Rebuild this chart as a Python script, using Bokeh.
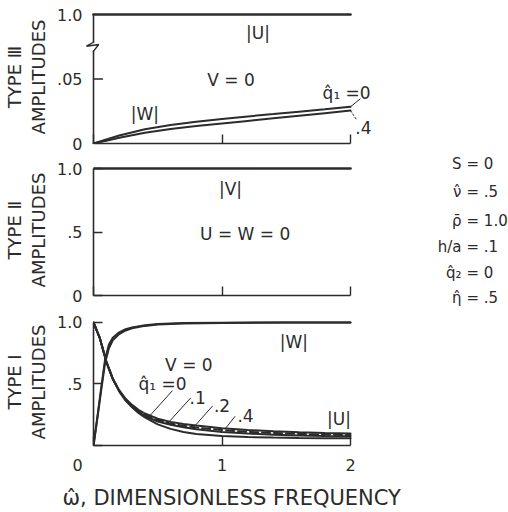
from bokeh.embed import file_html
from bokeh.layouts import column, row
from bokeh.models import FixedTicker, Label, LinearAxis
from bokeh.plotting import figure
from bokeh.resources import INLINE

# ---------------------------------------------------------------- data
# Type III mode: |U| = 1, V = 0, |W| small (two damping cases)
omega_iii = [0, 0.1, 0.2, 0.4, 0.6, 0.8, 1.0, 1.2, 1.4, 1.6, 1.8, 2.0]
w_iii_q0 = [0, 0.0032, 0.0062, 0.0110, 0.0143, 0.0168, 0.0190, 0.0210, 0.0228, 0.0247, 0.0265, 0.0285]
w_iii_q4 = [0, 0.0022, 0.0044, 0.0083, 0.0113, 0.0135, 0.0155, 0.0175, 0.0195, 0.0215, 0.0235, 0.0255]
u_iii = [1.0, 1.0]
omega_flat = [0, 2]

# Type II mode: |V| = 1, U = W = 0
v_ii = [1.0, 1.0]

# Type I mode: |U| for several q1 values, |W| rising to 1
omega_i_u = [0, 0.05, 0.1, 0.15, 0.2, 0.25, 0.3, 0.35, 0.4, 0.5, 0.6, 0.7, 0.8, 1.0, 1.2, 1.4, 1.6, 1.8, 2.0]
u_i_q0 = [1.0, 0.87, 0.68, 0.54, 0.44, 0.365, 0.31, 0.265, 0.228, 0.172, 0.135, 0.110, 0.094, 0.077, 0.069, 0.064, 0.061, 0.059, 0.058]
u_i_q1 = [1.0, 0.87, 0.68, 0.54, 0.442, 0.370, 0.316, 0.274, 0.240, 0.195, 0.168, 0.148, 0.132, 0.110, 0.097, 0.088, 0.082, 0.078, 0.075]
u_i_q2 = [1.0, 0.87, 0.68, 0.542, 0.445, 0.374, 0.322, 0.280, 0.248, 0.205, 0.178, 0.160, 0.146, 0.125, 0.111, 0.101, 0.094, 0.089, 0.085]
u_i_q4 = [1.0, 0.87, 0.682, 0.545, 0.450, 0.380, 0.330, 0.290, 0.260, 0.218, 0.192, 0.175, 0.162, 0.140, 0.126, 0.115, 0.107, 0.101, 0.097]
q1_labels = ["q\u0302\u2081 =0", ".1", ".2", ".4"]

omega_i_w = [0, 0.03, 0.06, 0.09, 0.12, 0.15, 0.2, 0.25, 0.3, 0.4, 0.5, 0.7, 1.0, 1.5, 2.0]
w_i_q0 = [0, 0.23, 0.47, 0.70, 0.82, 0.875, 0.92, 0.945, 0.96, 0.978, 0.988, 0.995, 0.998, 1.0, 1.0]
w_i_q4 = [0, 0.22, 0.45, 0.67, 0.79, 0.855, 0.905, 0.935, 0.952, 0.972, 0.983, 0.992, 0.996, 0.999, 1.0]

# shell parameters
param_names = ["S", "\u03bd\u0302", "\u03c1\u0304", "h/a", "q\u0302\u2082", "\u03b7\u0302"]
param_values = ["= 0", "= .5", "= 1.0", "= .1", "= 0", "= .5"]

x_title = "\u03c9\u0302, DIMENSIONLESS FREQUENCY"

# ---------------------------------------------------------------- style
INK = "#2b2b2b"
FONT = "DejaVu Sans"
FULL_W = 508
PLOT_W = 380
LEFT = 93
PX_PER_UNIT = 128.5
BREAK_TOP = 0.1  # axis position where the broken Type III scale shows 1.0


def interp(x, xs, ys):
    for i in range(len(xs) - 1):
        if xs[i] <= x <= xs[i + 1]:
            t = (x - xs[i]) / (xs[i + 1] - xs[i])
            return ys[i] + t * (ys[i + 1] - ys[i])
    return ys[-1]


def bare(p):
    p.outline_line_color = None
    p.grid.visible = False
    p.background_fill_color = "white"
    p.border_fill_color = "white"


def style_axis(ax, size="16px"):
    ax.minor_tick_line_color = None
    ax.axis_line_color = INK
    ax.axis_line_width = 1.6
    ax.major_tick_line_color = INK
    ax.major_tick_line_width = 1.4
    ax.major_tick_in = 9
    ax.major_tick_out = 0
    ax.major_label_text_font = FONT
    ax.major_label_text_font_size = size
    ax.major_label_text_color = INK
    ax.axis_label_text_font = FONT
    ax.axis_label_text_font_style = "normal"
    ax.axis_label_text_color = INK


def panel(width, height, top, bottom, y_end, ticks, overrides, type_name, type_bounds,
          left=LEFT, tick_labels=False):
    x_start = -(LEFT - left) / PX_PER_UNIT
    x_end = (width - LEFT) / PX_PER_UNIT
    p = figure(width=width, height=height, x_range=(x_start, x_end), y_range=(0, y_end),
               output_backend="svg", toolbar_location=None, frame_align=False,
               min_border_left=left, min_border_right=0,
               min_border_top=top, min_border_bottom=bottom)
    bare(p)

    xa = p.xaxis[0]
    style_axis(xa)
    xa.ticker = FixedTicker(ticks=[0, 1, 2])
    xa.bounds = (0, 2)
    if tick_labels:
        xa.major_label_overrides = {0: "0\u2003\u2003"}
        xa.major_label_standoff = 10
    else:
        xa.major_label_overrides = {0: "", 1: "", 2: ""}
        xa.major_label_text_font_size = "0px"
        xa.major_label_standoff = 0

    ya = p.yaxis[0]
    style_axis(ya)
    ya.ticker = FixedTicker(ticks=ticks)
    ya.major_label_overrides = overrides
    ya.bounds = (0, ticks[-1])
    ya.major_label_standoff = 11 - (LEFT - left)
    ya.axis_label = "AMPLITUDES"
    ya.axis_label_text_font_size = "18px"
    ya.axis_label_standoff = 5

    # outer left axis carrying only the mode name
    ta = LinearAxis(ticker=FixedTicker(ticks=[]), bounds=type_bounds, axis_label=type_name)
    style_axis(ta)
    ta.axis_line_color = None
    ta.major_label_text_font_size = "0px"
    ta.major_label_standoff = 0
    ta.axis_label_text_font_size = "18px"
    ta.axis_label_standoff = 1
    p.add_layout(ta, "left")
    return p


def note(p, x, y, text, size=17, align="center"):
    p.add_layout(Label(x=x, y=y, text=text, text_font=FONT, text_font_size=f"{size}px",
                       text_color=INK, text_align=align, text_baseline="middle"))


def curve(p, xs, ys, width=2.0, dash="solid"):
    p.line(xs, ys, line_color=INK, line_width=width, line_dash=dash, line_cap="round")


# ---------------------------------------------------------------- Type III
top_end = BREAK_TOP * 133 / 129
p3 = panel(PLOT_W, 155, 10, 12, top_end, [0, 0.05, BREAK_TOP],
           {0: "0", 0.05: ".05", BREAK_TOP: "1.0"},
           "TYPE \u2162", (0.0318, BREAK_TOP), left=84)
p3.yaxis[0].axis_line_color = None
p3.yaxis[0].major_tick_line_color = None

# broken vertical axis, drawn along omega = 0
lo_break, hi_break = 0.0716, 0.0785
tick_len = 9 / PX_PER_UNIT
curve(p3, [0, 0], [0, lo_break], width=1.6)
curve(p3, [0, 0], [hi_break, BREAK_TOP], width=1.6)
curve(p3, [0, -0.055, 0.041, 0], [hi_break, 0.0754, 0.0767, lo_break], width=1.4)
curve(p3, [0, tick_len], [0.05, 0.05], width=1.4)

curve(p3, omega_flat, [BREAK_TOP * u for u in u_iii], width=2.6)
curve(p3, omega_iii, w_iii_q0, width=2.0)
curve(p3, omega_iii, w_iii_q4, width=2.0)
curve(p3, [2.0, 2.075], [w_iii_q0[-1], 0.0345], width=1.0)
curve(p3, [2.0, 2.05], [w_iii_q4[-1], 0.018], width=1.0, dash="2 2")

note(p3, 1.28, 0.0855, "|U|")
note(p3, 1.07, 0.049, "V = 0")
note(p3, 0.40, 0.023, "|W|")
note(p3, 1.97, 0.0395, "q\u0302\u2081 =0")
note(p3, 2.10, 0.0125, ".4")

# ---------------------------------------------------------------- Type II
p2 = panel(PLOT_W, 152, 9, 12, 131 / 127, [0, 0.5, 1.0], {0: "0", 0.5: ".5", 1.0: "1.0"},
           "TYPE \u2161", (0.418, 1.0))
curve(p2, omega_flat, v_ii, width=2.6)
note(p2, 1.066, 0.84, "|V|")
note(p2, 1.18, 0.486, "U = W = 0")

# ---------------------------------------------------------------- Type I
p1 = panel(FULL_W, 170, 11, 30, 129 / 125, [0, 0.5, 1.0], {0: "", 0.5: ".5", 1.0: "1.0"},
           "TYPE \u2160", (0.296, 1.0), tick_labels=True)
curve(p1, omega_i_w, w_i_q0, width=2.0)
curve(p1, omega_i_w, w_i_q4, width=2.0)
curve(p1, omega_i_u, u_i_q0, width=2.0)
curve(p1, omega_i_u, u_i_q1, width=2.0)
curve(p1, omega_i_u, u_i_q2, width=2.0, dash="8 4")
curve(p1, omega_i_u, u_i_q4, width=2.0)

u_sets = [u_i_q0, u_i_q1, u_i_q2, u_i_q4]
leader_start = [(0.612, 0.443), (0.755, 0.385), (0.924, 0.318), (1.10, 0.235)]
leader_hit = [0.418, 0.573, 0.78, 1.027]
label_pos = [(0.537, 0.496), (0.81, 0.39), (1.0, 0.322), (1.183, 0.243)]
for us, (sx, sy), hx, (lx, ly), txt in zip(u_sets, leader_start, leader_hit, label_pos, q1_labels):
    curve(p1, [sx, hx], [sy, interp(hx, omega_i_u, us)], width=1.0)
    note(p1, lx, ly, txt)

note(p1, 1.56, 0.84, "|W|")
note(p1, 0.742, 0.656, "V = 0")
note(p1, 1.91, 0.216, "|U|")

# ---------------------------------------------------------------- frequency axis title
TITLE_H = 512 - 155 - 152 - 170
pt = figure(width=FULL_W, height=TITLE_H, x_range=(0, FULL_W), y_range=(0, TITLE_H),
            output_backend="svg", toolbar_location=None, frame_align=False,
            x_axis_location=None, y_axis_location=None, min_border=0)
bare(pt)
note(pt, 62, 15, x_title, size=21, align="left")

# ---------------------------------------------------------------- parameter list
SIDE_H = 307
ps = figure(width=FULL_W - PLOT_W, height=SIDE_H, x_range=(0, FULL_W - PLOT_W), y_range=(0, SIDE_H),
            output_backend="svg", toolbar_location=None, frame_align=False,
            x_axis_location=None, y_axis_location=None, min_border=0)
bare(ps)
row_y = [144, 116, 87, 61, 35, 10]
for name, val, y in zip(param_names, param_values, row_y):
    note(ps, 81, y, name, size=15, align="right")
    note(ps, 86, y, val, size=15, align="left")

layout = column(row(column(p3, p2, spacing=0), ps, spacing=0), p1, pt, spacing=0)
open("out.html", "w").write(file_html(layout, INLINE))
